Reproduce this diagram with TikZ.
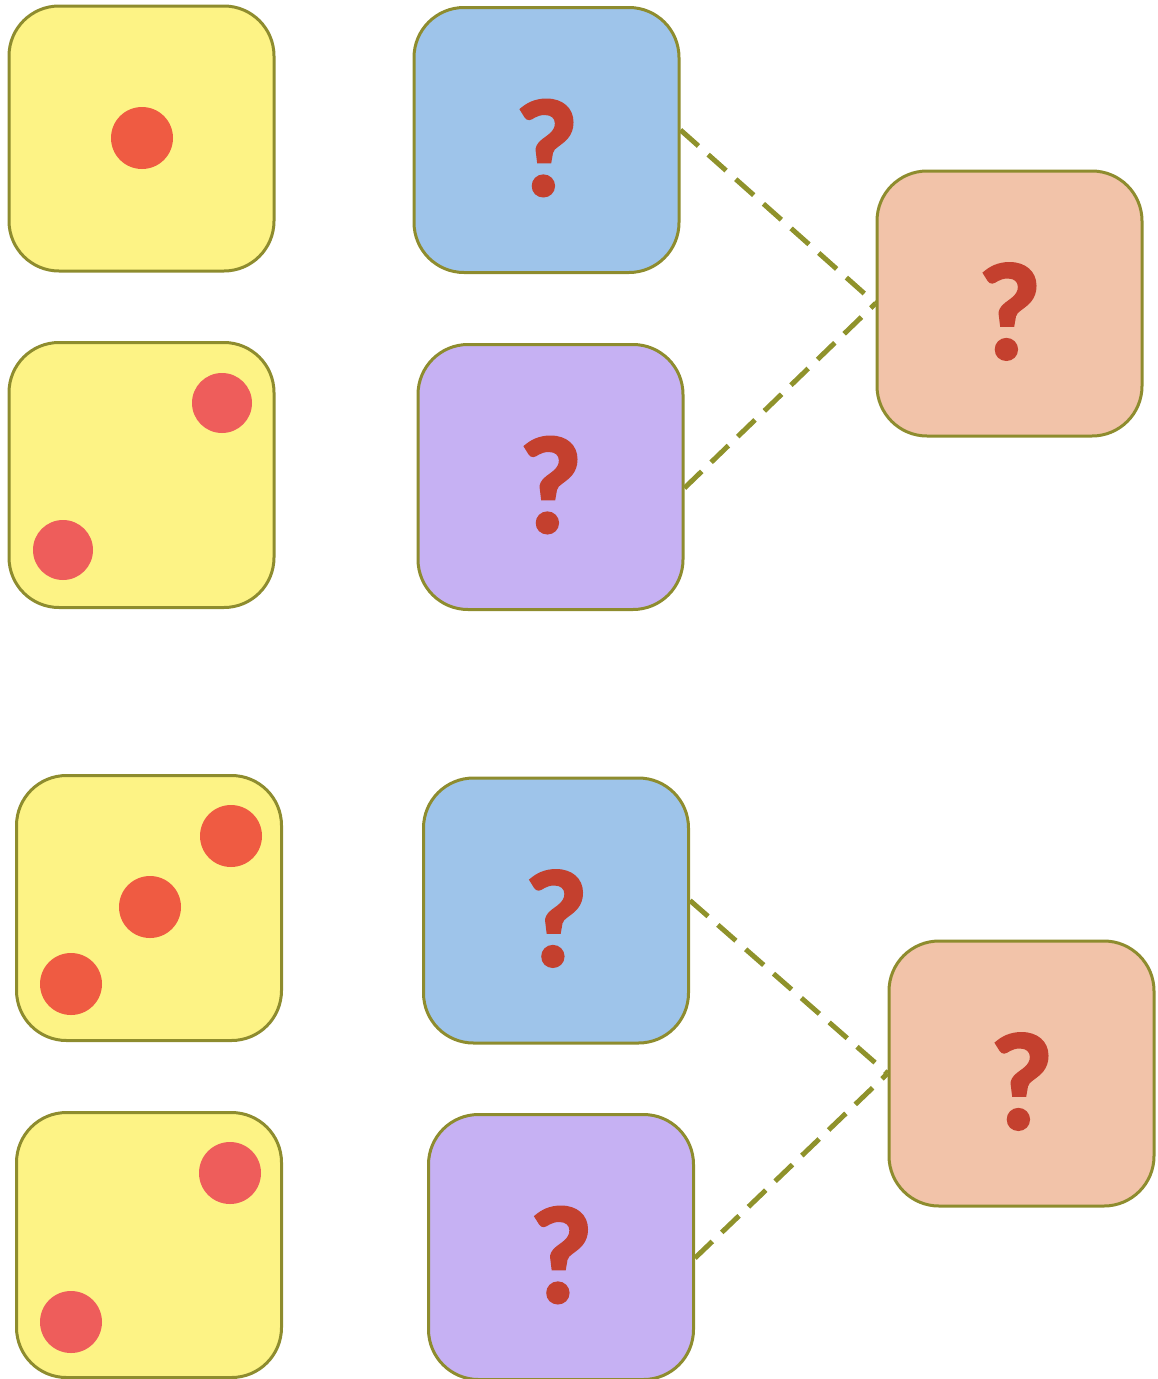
\documentclass[tikz,border=0pt]{standalone}
\usepackage{fontspec}
\newfontface\qfont{Carlito Bold}[FakeBold=2]
\definecolor{edge}{HTML}{8E8C2E}
\definecolor{dashc}{HTML}{8F922B}
\definecolor{yel}{HTML}{FDF385}
\definecolor{blu}{HTML}{9EC4EA}
\definecolor{pur}{HTML}{C6B1F3}
\definecolor{ora}{HTML}{F2C3A9}
\definecolor{dotA}{HTML}{EF5B42}
\definecolor{dotB}{HTML}{EE5D5B}
\definecolor{qcol}{HTML}{C4402E}
\tikzset{
  box/.style={draw=edge, line width=3pt, rounded corners=50pt, minimum width=265pt, minimum height=265pt, inner sep=0pt},
  ybox/.style={box, fill=yel},
  bbox/.style={box, fill=blu},
  pbox/.style={box, fill=pur},
  obox/.style={box, fill=ora},
  qm/.style={text=qcol, font=\qfont\fontsize{138}{138}\selectfont, inner sep=0pt},
  link/.style={draw=dashc, line width=5pt, dash pattern=on 24pt off 13pt}
}
\begin{document}
\begin{tikzpicture}[x=1pt,y=-1pt]
\useasboundingbox (0,0) rectangle (1158,1379);
% yellow dice
\node[ybox] (y1) at (141.5,138.5) {};
\node[ybox] (y2) at (141.5,475) {};
\node[ybox] (y3) at (149,908) {};
\node[ybox] (y4) at (149,1245) {};
% dots
\fill[dotA] (142,138) circle [radius=31pt];
\fill[dotB] (222,403) circle [radius=30pt];
\fill[dotB] (63,550) circle [radius=30pt];
\fill[dotA] (231,836) circle [radius=31pt];
\fill[dotA] (150,907) circle [radius=31pt];
\fill[dotA] (71,984) circle [radius=31pt];
\fill[dotB] (230,1173) circle [radius=31pt];
\fill[dotB] (71,1322) circle [radius=31pt];
% question boxes
\node[bbox] (b1) at (546.5,140) {};
\node[pbox] (p1) at (550.5,477) {};
\node[obox] (o1) at (1009.5,303.5) {};
\node[bbox] (b2) at (556,910.5) {};
\node[pbox] (p2) at (561,1247) {};
\node[obox] (o2) at (1021.5,1073.5) {};
% question marks
\node[qm] (qb1) at ([yshift=-8pt]b1.center) {?};
\node[qm] (qp1) at ([yshift=-8pt]p1.center) {?};
\node[qm] (qo1) at ([yshift=-8pt]o1.center) {?};
\node[qm] (qb2) at ([yshift=-8pt]b2.center) {?};
\node[qm] (qp2) at ([yshift=-8pt]p2.center) {?};
\node[qm] (qo2) at ([yshift=-8pt]o2.center) {?};
% connectors
\draw[link] ([yshift=10pt]b1.east) -- (o1.west);
\draw[link] ([yshift=-11pt]p1.east) -- (o1.west);
\draw[link] ([yshift=10pt]b2.east) -- (o2.west);
\draw[link] ([yshift=-11pt]p2.east) -- (o2.west);
\end{tikzpicture}
\end{document}
